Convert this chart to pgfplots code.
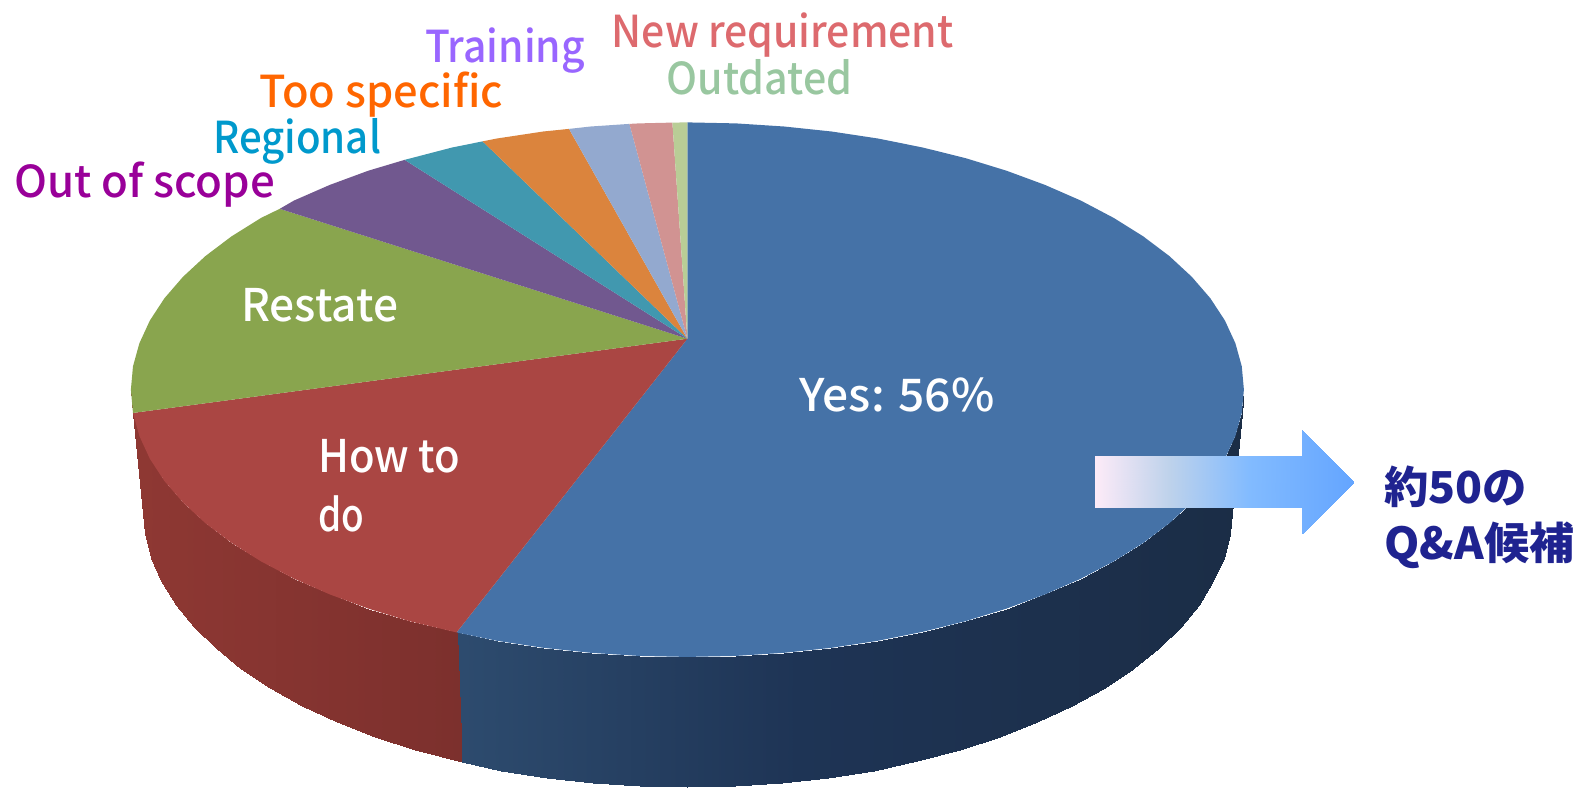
\documentclass[border=0pt]{standalone}
\usepackage{pgfplots}
\usepackage{graphicx}
\usepackage{fontspec}
\pgfplotsset{compat=1.18}
\setmainfont{Noto Sans CJK JP Medium}
\newfontfamily\qafont{Noto Sans CJK JP}
\newcommand{\lab}[6]{\node[anchor=base west,inner sep=0pt,text=#4] at (axis cs:#1,#2) {\fontsize{#5}{#5}\selectfont\resizebox{#3pt}{\height}{#6}};}
\definecolor{c1}{HTML}{4572A7}
\definecolor{c2}{HTML}{AA4643}
\definecolor{c3}{HTML}{89A54E}
\definecolor{c4}{HTML}{71588F}
\definecolor{c5}{HTML}{4198AF}
\definecolor{c6}{HTML}{DB843D}
\definecolor{c7}{HTML}{93A9CF}
\definecolor{c8}{HTML}{D19392}
\definecolor{c9}{HTML}{B9CD96}
\definecolor{lscope}{HTML}{990099}
\definecolor{lregion}{HTML}{0099CC}
\definecolor{lspec}{HTML}{FF6600}
\definecolor{ltrain}{HTML}{9966FF}
\definecolor{lnew}{HTML}{DD6A6E}
\definecolor{lold}{HTML}{99C7A0}
\definecolor{lqa}{HTML}{1F2390}
\begin{document}
\begin{tikzpicture}
\begin{axis}[
  scale only axis, width=787pt, height=394pt,
  xmin=0, xmax=1574, ymin=0, ymax=788, y dir=reverse,
  hide axis, clip=false,
  point meta min=90, point meta max=1360,
  colormap={sideblue}{rgb255(90)=(45,75,110) rgb255(462)=(45,75,110) rgb255(800)=(30,52,85) rgb255(1360)=(26,43,66)},
  colormap={sidered}{rgb255(90)=(145,57,52) rgb255(462)=(124,48,45) rgb255(1360)=(124,48,45)},
  colormap={arrowgrad}{rgb255(90)=(253,235,248) rgb255(1096)=(253,235,248) rgb255(1170)=(190,210,235) rgb255(1250)=(130,187,255) rgb255(1355)=(100,165,255) rgb255(1360)=(100,165,255)},
]
\path (axis cs:0,0) rectangle (axis cs:1574,788);
% side of the blue slice: lower rim, upper rim
\addplot[surf, shader=interp, colormap name=sideblue, mesh/cols=2, point meta=x] table[row sep=\\] {
x y\\
1233 510\\ 1245 390\\
1230.9 534.2\\ 1242.9 413.3\\
1224.7 558.3\\ 1236.5 436.4\\
1214.4 582\\ 1226 459.2\\
1200.1 605.1\\ 1211.4 481.5\\
1181.9 627.5\\ 1192.8 503\\
1160 649\\ 1170.4 523.7\\
1134.5 669.5\\ 1144.3 543.4\\
1105.5 688.7\\ 1114.7 561.9\\
1073.4 706.6\\ 1081.9 579.2\\
1038.3 723\\ 1046 594.9\\
1000.6 737.7\\ 1007.5 609.1\\
960.5 750.8\\ 966.5 621.7\\
918.3 762\\ 923.4 632.4\\
874.4 771.2\\ 878.5 641.4\\
829 778.5\\ 832.2 648.4\\
782.6 783.8\\ 784.7 653.4\\
735.5 786.9\\ 736.6 656.5\\
688 788\\ 688 657.5\\
640.5 786.9\\ 639.4 656.5\\
593.4 783.8\\ 591.3 653.4\\
547 778.5\\ 543.8 648.4\\
501.6 771.2\\ 497.5 641.4\\
462 763\\ 457 633\\
};
% side of the red slice
\addplot[surf, shader=interp, colormap name=sidered, mesh/cols=2, point meta=x] table[row sep=\\] {
x y\\
462 763\\ 457 633\\
415.5 750.8\\ 409.5 621.7\\
375.4 737.7\\ 368.5 609.1\\
337.7 723\\ 330 594.9\\
302.6 706.6\\ 294.1 579.2\\
270.5 688.7\\ 261.3 561.9\\
241.5 669.5\\ 231.7 543.4\\
216 649\\ 205.6 523.7\\
194.1 627.5\\ 183.2 503\\
175.9 605.1\\ 164.6 481.5\\
161.6 582\\ 150 459.2\\
151.3 558.3\\ 139.5 436.4\\
145.1 534.2\\ 133.1 413.3\\
143 510\\ 131 390\\
};
% top faces
\addplot[fill=c1,draw=none] coordinates {(688,339)(688,122.5)(736.6,123.5)(784.7,126.6)(832.2,131.6)(878.5,138.6)(923.4,147.6)(966.5,158.3)(1007.5,170.9)(1046,185.1)(1081.9,200.8)(1114.7,218.1)(1144.3,236.6)(1170.4,256.3)(1192.8,277)(1211.4,298.5)(1226,320.8)(1236.5,343.6)(1242.9,366.7)(1245,390)(1242.9,413.3)(1236.5,436.4)(1226,459.2)(1211.4,481.5)(1192.8,503)(1170.4,523.7)(1144.3,543.4)(1114.7,561.9)(1081.9,579.2)(1046,594.9)(1007.5,609.1)(966.5,621.7)(923.4,632.4)(878.5,641.4)(832.2,648.4)(784.7,653.4)(736.6,656.5)(688,657.5)(639.4,656.5)(591.3,653.4)(543.8,648.4)(497.5,641.4)(457,633)} --cycle;
\addplot[fill=c2,draw=none] coordinates {(688,339)(457,633)(409.5,621.7)(368.5,609.1)(330,594.9)(294.1,579.2)(261.3,561.9)(231.7,543.4)(205.6,523.7)(183.2,503)(164.6,481.5)(150,459.2)(139.5,436.4)(133.1,413.3)} --cycle;
\addplot[fill=c3,draw=none] coordinates {(688,339)(133.1,413.3)(131,390)(133.1,366.7)(139.5,343.6)(150,320.8)(164.6,298.5)(183.2,277)(205.6,256.3)(231.7,236.6)(261.3,218.1)(280,209)} --cycle;
\addplot[fill=c4,draw=none] coordinates {(688,339)(280,209)(294.1,200.8)(330,185.1)(368.5,170.9)(405,160)} --cycle;
\addplot[fill=c5,draw=none] coordinates {(688,339)(405,160)(452.6,147.6)(483,141.5)} --cycle;
\addplot[fill=c6,draw=none] coordinates {(688,339)(483,141.5)(497.5,138.6)(543.8,131.6)(569.5,129)} --cycle;
\addplot[fill=c7,draw=none] coordinates {(688,339)(569.5,129)(591.3,126.6)(630,124)} --cycle;
\addplot[fill=c8,draw=none] coordinates {(688,339)(630,124)(639.4,123.5)(673,122.7)} --cycle;
\addplot[fill=c9,draw=none] coordinates {(688,339)(673,122.7)(688,122.5)} --cycle;
% arrow
\addplot[surf, shader=interp, colormap name=arrowgrad, mesh/cols=2, point meta=x] table[row sep=\\] {
x y\\
1096 456\\ 1096 508\\
1170 456\\ 1170 508\\
1250 456\\ 1250 508\\
1303 456\\ 1303 508\\
};
\addplot[surf, shader=interp, colormap name=arrowgrad, mesh/cols=2, point meta=x] table[row sep=\\] {
x y\\
1303 430\\ 1303 534\\
1355 482\\ 1355 482\\
};
% labels
\lab{800}{412}{97.5}{white}{22.5}{Yes: 56\%}
\lab{318}{473}{71}{white}{22.5}{How to}
\lab{318}{532}{23}{white}{22.5}{do}
\lab{241}{322}{78.5}{white}{22.5}{Restate}
\lab{14}{198}{130.5}{lscope}{22}{Out of scope}
\lab{213}{154}{84}{lregion}{22}{Regional}
\lab{259}{108}{122}{lspec}{22}{Too specific}
\lab{425}{63}{80}{ltrain}{22}{Training}
\lab{612}{48}{171}{lnew}{22}{New requirement}
\lab{667}{95}{93}{lold}{22}{Outdated}
\lab{1385}{504}{71.5}{lqa}{22}{\qafont\bfseries 約50の}
\lab{1385}{560}{95}{lqa}{22}{\qafont\bfseries Q\&A候補}
\end{axis}
\end{tikzpicture}
\end{document}
